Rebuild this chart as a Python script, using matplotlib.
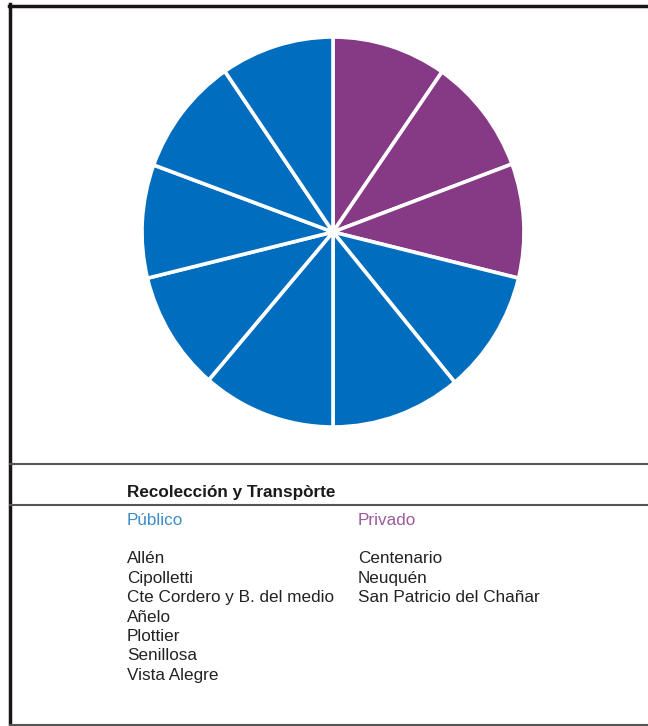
import matplotlib
matplotlib.use("Agg")
import matplotlib.pyplot as plt
from matplotlib.lines import Line2D

plt.rcParams["font.family"] = ["Liberation Sans", "DejaVu Sans"]

# Data
title = "Recolección y Transpòrte"
groups = ["Público", "Privado"]
publico = ["Allén", "Cipolletti", "Cte Cordero y B. del medio", "Añelo",
           "Plottier", "Senillosa", "Vista Alegre"]
privado = ["Centenario", "Neuquén", "San Patricio del Chañar"]

# slice sizes as drawn (degrees), clockwise from the top: private first
slice_values = [34.8, 34.8, 34.1, 36.7, 39.6, 40.6, 35.7, 33.8, 35.4, 34.5]
slice_groups = ["Privado"] * len(privado) + ["Público"] * len(publico)

colors = {"Público": "#006dbf", "Privado": "#863a86"}
text_colors = {"Público": "#3c8ccb", "Privado": "#9c5a9c"}

W, H = 648, 726
fig = plt.figure(figsize=(W / 100, H / 100), dpi=100)


def fx(px):
    return px / W


def fy(py):
    return 1 - py / H


# Pie
cx, cy, rx, ry = 333, 232, 191, 195
ax = fig.add_axes([fx(cx - rx), fy(cy + ry), 2 * rx / W, 2 * ry / H])
ax.pie(slice_values, colors=[colors[g] for g in slice_groups],
       startangle=90, counterclock=False,
       wedgeprops=dict(edgecolor="white", linewidth=2.6))
ax.set_xlim(-1, 1)
ax.set_ylim(-1, 1)
ax.set_aspect("auto")
ax.axis("off")

# Frame and separators
fig.add_artist(Line2D([fx(10), fx(10)], [fy(4), fy(726)], color="#1a1414", lw=2.5))
fig.add_artist(Line2D([fx(9), fx(648)], [fy(5.5), fy(5.5)], color="#1a1414", lw=2.5))
fig.add_artist(Line2D([fx(10), fx(648)], [fy(724.5), fy(724.5)], color="#555555", lw=1.5))
fig.add_artist(Line2D([fx(10), fx(648)], [fy(464), fy(464)], color="#555555", lw=1.5))
fig.add_artist(Line2D([fx(10), fx(648)], [fy(505), fy(505)], color="#555555", lw=1.5))

# Legend text
fs = 12.3
fig.text(fx(127), fy(497), title, fontsize=fs, fontweight="bold",
         color="#1a1a1a", va="baseline")
col_x = {"Público": 127, "Privado": 358}
for g in groups:
    fig.text(fx(col_x[g]), fy(525), g, fontsize=fs, color=text_colors[g],
             va="baseline")

for names, g in [(publico, "Público"), (privado, "Privado")]:
    for i, name in enumerate(names):
        fig.text(fx(col_x[g]), fy(563 + i * 19.5), name, fontsize=fs,
                 color="#222222", va="baseline")

fig.savefig("out.png", dpi=100)
